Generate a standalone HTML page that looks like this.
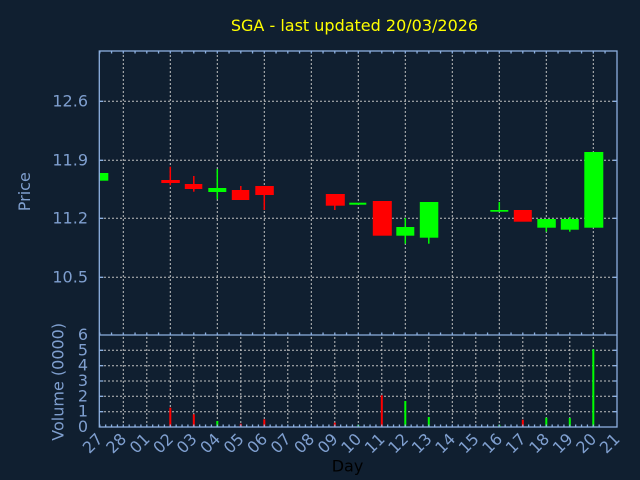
<!DOCTYPE html>
<html><head><meta charset="utf-8"><style>
html,body{margin:0;padding:0;background:#101f30;}
svg{display:block;}
text{font-family:"DejaVu Sans","Liberation Sans",sans-serif;}
</style></head><body>
<svg width="640" height="480" viewBox="0 0 640 480" xmlns="http://www.w3.org/2000/svg">
<rect width="640" height="480" fill="#101f30"/>
<text x="354.5" y="31" font-size="16" fill="#ffff00" text-anchor="middle">SGA - last updated 20/03/2026</text>

<!-- price gridlines -->
<g stroke="#c0c0c0" stroke-width="1" stroke-dasharray="2,2" fill="none">
<path d="M104,101.3H613M104,160.3H613M104,218.3H613M104,277.3H613"/>
<path d="M123.3,55V331M170.3,55V331M217.3,55V331M264.3,55V331M311.3,55V331M358.3,55V331M405.3,55V331M452.3,55V331M499.3,55V331M546.3,55V331M593.3,55V331"/>
<!-- volume gridlines -->
<path d="M104,411.7H613M104,396.3H613M104,381H613M104,365.7H613M104,350.3H613"/>
<path d="M123.3,337V425M146.8,337V425M170.3,337V425M193.8,337V425M217.3,337V425M240.8,337V425M264.3,337V425M287.8,337V425M311.3,337V425M334.8,337V425M358.3,337V425M381.8,337V425M405.3,337V425M428.8,337V425M452.3,337V425M475.8,337V425M499.3,337V425M522.8,337V425M546.3,337V425M569.8,337V425M593.3,337V425"/>
</g>

<defs><clipPath id="pc"><rect x="99.5" y="51" width="517.5" height="284"/></clipPath></defs>
<!-- candles -->
<g clip-path="url(#pc)">
<g fill="#00ff00">
<rect x="99.3" y="173" width="9" height="7.7"/>
<rect x="216.55" y="169" width="1.5" height="30.3"/><rect x="208.3" y="188" width="18" height="4"/>
<rect x="349.3" y="202.7" width="17" height="2"/>
<rect x="404.55" y="218" width="1.5" height="25.7"/><rect x="396.3" y="227" width="18" height="8.7"/>
<rect x="428.05" y="202" width="1.5" height="41.7"/><rect x="419.8" y="202" width="18.5" height="35.7"/>
<rect x="498.55" y="202" width="1.5" height="9.7"/><rect x="490.3" y="210" width="18" height="1.7"/>
<rect x="545.55" y="219" width="1.5" height="12.7"/><rect x="537.3" y="219" width="18.5" height="8.7"/>
<rect x="569.05" y="217" width="1.5" height="14.7"/><rect x="560.8" y="219" width="18" height="10.7"/>
<rect x="584.3" y="152" width="19" height="75.7"/>
</g>
<g fill="#ff0000">
<rect x="169.55" y="166.7" width="1.5" height="18.6"/><rect x="161.3" y="180" width="18.5" height="3"/>
<rect x="193.05" y="176" width="1.5" height="15.7"/><rect x="184.8" y="184" width="17.5" height="5"/>
<rect x="240.05" y="186" width="1.5" height="14"/><rect x="231.8" y="190" width="17.5" height="10"/>
<rect x="263.55" y="186" width="1.5" height="24"/><rect x="255.3" y="186" width="18.5" height="9"/>
<rect x="334.05" y="194" width="1.5" height="16"/><rect x="325.8" y="194" width="19" height="11.7"/>
<rect x="372.8" y="201" width="19" height="34.7"/>
<rect x="513.8" y="210" width="18" height="11.7"/>
</g>
</g>

<!-- volume bars -->
<g fill="#ff0000">
<rect x="169.3" y="407.7" width="2" height="19.3"/>
<rect x="192.8" y="414.3" width="2" height="12.7"/>
<rect x="239.8" y="423.7" width="2" height="3.3"/>
<rect x="263.3" y="419.3" width="2" height="7.7"/>
<rect x="333.8" y="422.7" width="2" height="4.3"/>
<rect x="380.8" y="395.3" width="2" height="31.7"/>
<rect x="521.8" y="419.7" width="2" height="7.3"/>
</g>
<g fill="#00ff00">
<rect x="216.3" y="421" width="2" height="6"/>
<rect x="357.3" y="424.7" width="2" height="2.3"/>
<rect x="404.3" y="401" width="2" height="26"/>
<rect x="427.8" y="417" width="2" height="10"/>
<rect x="498.3" y="424.7" width="2" height="2.3"/>
<rect x="545.3" y="417.7" width="2" height="9.3"/>
<rect x="568.8" y="418" width="2" height="9"/>
<rect x="592.3" y="349.3" width="2" height="77.7"/>
</g>

<!-- axes -->
<g stroke="#8db0e0" stroke-width="1.3" fill="none">
<rect x="99.3" y="51" width="517.7" height="376"/>
<path d="M99.3,335H617"/>
<!-- y ticks price -->
<path d="M99.3,101.3h4M99.3,160.3h4M99.3,218.3h4M99.3,277.3h4M617,101.3h-4M617,160.3h-4M617,218.3h-4M617,277.3h-4"/>
<!-- y ticks volume -->
<path d="M99.3,411.7h4M99.3,396.3h4M99.3,381h4M99.3,365.7h4M99.3,350.3h4M617,411.7h-4M617,396.3h-4M617,381h-4M617,365.7h-4M617,350.3h-4"/>
<!-- top ticks -->
<path d="M99.8,51v2.5m11.75,-2.5v2.5m11.75,-2.5v2.5m11.75,-2.5v2.5m11.75,-2.5v2.5m11.75,-2.5v2.5m11.75,-2.5v2.5m11.75,-2.5v2.5m11.75,-2.5v2.5m11.75,-2.5v2.5m11.75,-2.5v2.5m11.75,-2.5v2.5m11.75,-2.5v2.5m11.75,-2.5v2.5m11.75,-2.5v2.5m11.75,-2.5v2.5m11.75,-2.5v2.5m11.75,-2.5v2.5m11.75,-2.5v2.5m11.75,-2.5v2.5m11.75,-2.5v2.5m11.75,-2.5v2.5m11.75,-2.5v2.5m11.75,-2.5v2.5m11.75,-2.5v2.5m11.75,-2.5v2.5m11.75,-2.5v2.5m11.75,-2.5v2.5m11.75,-2.5v2.5m11.75,-2.5v2.5m11.75,-2.5v2.5m11.75,-2.5v2.5m11.75,-2.5v2.5m11.75,-2.5v2.5m11.75,-2.5v2.5m11.75,-2.5v2.5m11.75,-2.5v2.5m11.75,-2.5v2.5m11.75,-2.5v2.5m11.75,-2.5v2.5m11.75,-2.5v2.5m11.75,-2.5v2.5m11.75,-2.5v2.5m11.75,-2.5v2.5"/>
<!-- price bottom ticks (pointing up) -->
<path d="M99.8,335v-2.5m11.75,2.5v-2.5m11.75,2.5v-2.5m11.75,2.5v-2.5m11.75,2.5v-2.5m11.75,2.5v-2.5m11.75,2.5v-2.5m11.75,2.5v-2.5m11.75,2.5v-2.5m11.75,2.5v-2.5m11.75,2.5v-2.5m11.75,2.5v-2.5m11.75,2.5v-2.5m11.75,2.5v-2.5m11.75,2.5v-2.5m11.75,2.5v-2.5m11.75,2.5v-2.5m11.75,2.5v-2.5m11.75,2.5v-2.5m11.75,2.5v-2.5m11.75,2.5v-2.5m11.75,2.5v-2.5m11.75,2.5v-2.5m11.75,2.5v-2.5m11.75,2.5v-2.5m11.75,2.5v-2.5m11.75,2.5v-2.5m11.75,2.5v-2.5m11.75,2.5v-2.5m11.75,2.5v-2.5m11.75,2.5v-2.5m11.75,2.5v-2.5m11.75,2.5v-2.5m11.75,2.5v-2.5m11.75,2.5v-2.5m11.75,2.5v-2.5m11.75,2.5v-2.5m11.75,2.5v-2.5m11.75,2.5v-2.5m11.75,2.5v-2.5m11.75,2.5v-2.5m11.75,2.5v-2.5m11.75,2.5v-2.5m11.75,2.5v-2.5"/>
<!-- volume bottom ticks -->
<path d="M99.8,427v-2.5m5.875,2.5v-2.5m5.875,2.5v-2.5m5.875,2.5v-2.5m5.875,2.5v-2.5m5.875,2.5v-2.5m5.875,2.5v-2.5m5.875,2.5v-2.5m5.875,2.5v-2.5m5.875,2.5v-2.5m5.875,2.5v-2.5m5.875,2.5v-2.5m5.875,2.5v-2.5m5.875,2.5v-2.5m5.875,2.5v-2.5m5.875,2.5v-2.5m5.875,2.5v-2.5m5.875,2.5v-2.5m5.875,2.5v-2.5m5.875,2.5v-2.5m5.875,2.5v-2.5m5.875,2.5v-2.5m5.875,2.5v-2.5m5.875,2.5v-2.5m5.875,2.5v-2.5m5.875,2.5v-2.5m5.875,2.5v-2.5m5.875,2.5v-2.5m5.875,2.5v-2.5m5.875,2.5v-2.5m5.875,2.5v-2.5m5.875,2.5v-2.5m5.875,2.5v-2.5m5.875,2.5v-2.5m5.875,2.5v-2.5m5.875,2.5v-2.5m5.875,2.5v-2.5m5.875,2.5v-2.5m5.875,2.5v-2.5m5.875,2.5v-2.5m5.875,2.5v-2.5m5.875,2.5v-2.5m5.875,2.5v-2.5m5.875,2.5v-2.5m5.875,2.5v-2.5m5.875,2.5v-2.5m5.875,2.5v-2.5m5.875,2.5v-2.5m5.875,2.5v-2.5m5.875,2.5v-2.5m5.875,2.5v-2.5m5.875,2.5v-2.5m5.875,2.5v-2.5m5.875,2.5v-2.5m5.875,2.5v-2.5m5.875,2.5v-2.5m5.875,2.5v-2.5m5.875,2.5v-2.5m5.875,2.5v-2.5m5.875,2.5v-2.5m5.875,2.5v-2.5m5.875,2.5v-2.5m5.875,2.5v-2.5m5.875,2.5v-2.5m5.875,2.5v-2.5m5.875,2.5v-2.5m5.875,2.5v-2.5m5.875,2.5v-2.5m5.875,2.5v-2.5m5.875,2.5v-2.5m5.875,2.5v-2.5m5.875,2.5v-2.5m5.875,2.5v-2.5m5.875,2.5v-2.5m5.875,2.5v-2.5m5.875,2.5v-2.5m5.875,2.5v-2.5m5.875,2.5v-2.5m5.875,2.5v-2.5m5.875,2.5v-2.5m5.875,2.5v-2.5m5.875,2.5v-2.5m5.875,2.5v-2.5m5.875,2.5v-2.5m5.875,2.5v-2.5m5.875,2.5v-2.5"/>
</g>

<!-- labels -->
<g fill="#7f9fcf" font-size="16">
<g text-anchor="end">
<text x="88" y="106.3">12.6</text>
<text x="88" y="165.3">11.9</text>
<text x="88" y="223.3">11.2</text>
<text x="88" y="282.3">10.5</text>
<text x="88" y="340">6</text>
<text x="88" y="355.3">5</text>
<text x="88" y="370.7">4</text>
<text x="88" y="386">3</text>
<text x="88" y="401.3">2</text>
<text x="88" y="416.7">1</text>
<text x="88" y="432">0</text>
</g>
<text transform="translate(30,191.7) rotate(-90)" text-anchor="middle">Price</text>
<text transform="translate(63.5,381.8) rotate(-90)" text-anchor="middle">Volume (0000)</text>
<g text-anchor="end">
<text transform="translate(103.8,440) rotate(-45)">27</text>
<text transform="translate(127.3,440) rotate(-45)">28</text>
<text transform="translate(150.8,440) rotate(-45)">01</text>
<text transform="translate(174.3,440) rotate(-45)">02</text>
<text transform="translate(197.8,440) rotate(-45)">03</text>
<text transform="translate(221.3,440) rotate(-45)">04</text>
<text transform="translate(244.8,440) rotate(-45)">05</text>
<text transform="translate(268.3,440) rotate(-45)">06</text>
<text transform="translate(291.8,440) rotate(-45)">07</text>
<text transform="translate(315.3,440) rotate(-45)">08</text>
<text transform="translate(338.8,440) rotate(-45)">09</text>
<text transform="translate(362.3,440) rotate(-45)">10</text>
<text transform="translate(385.8,440) rotate(-45)">11</text>
<text transform="translate(409.3,440) rotate(-45)">12</text>
<text transform="translate(432.8,440) rotate(-45)">13</text>
<text transform="translate(456.3,440) rotate(-45)">14</text>
<text transform="translate(479.8,440) rotate(-45)">15</text>
<text transform="translate(503.3,440) rotate(-45)">16</text>
<text transform="translate(526.8,440) rotate(-45)">17</text>
<text transform="translate(550.3,440) rotate(-45)">18</text>
<text transform="translate(573.8,440) rotate(-45)">19</text>
<text transform="translate(597.3,440) rotate(-45)">20</text>
<text transform="translate(620.8,440) rotate(-45)">21</text>
</g>
</g>
<text x="347.5" y="471.7" font-size="16" fill="#000000" text-anchor="middle">Day</text>
</svg>
</body></html>
